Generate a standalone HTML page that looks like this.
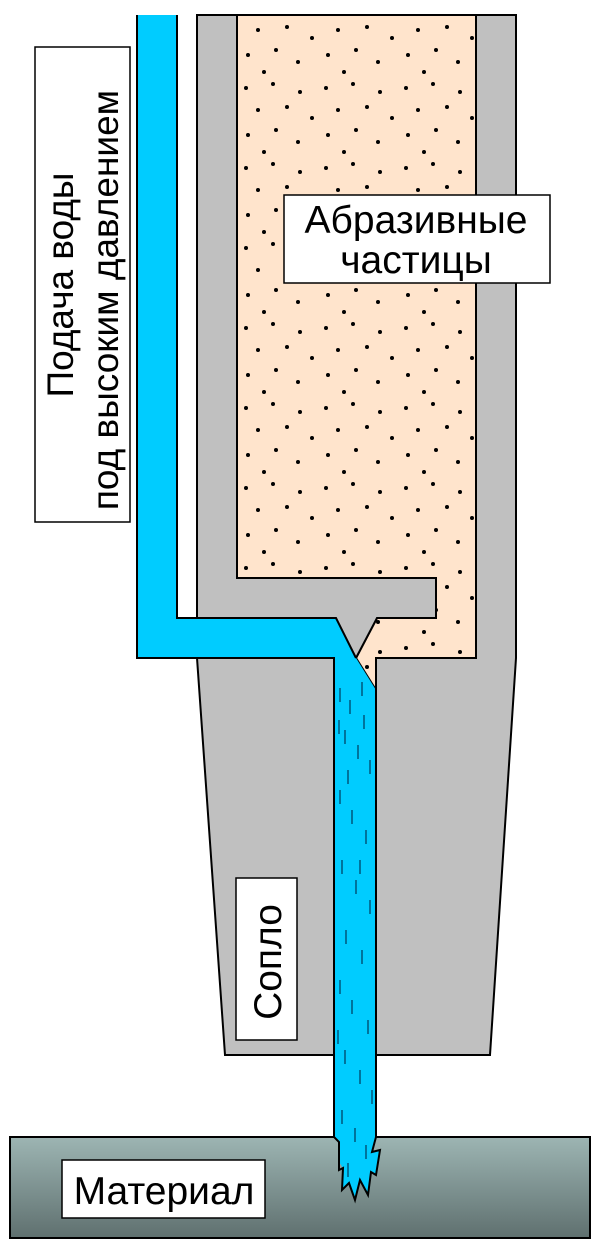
<!DOCTYPE html>
<html><head><meta charset="utf-8"><style>body{margin:0;background:#fff}svg{display:block}</style></head><body>
<svg width="600" height="1250" viewBox="0 0 600 1250" xmlns="http://www.w3.org/2000/svg" font-family="Liberation Sans, sans-serif">
<defs>
<linearGradient id="m" x1="0" y1="0" x2="0" y2="1"><stop offset="0" stop-color="#9db5b3"/><stop offset="1" stop-color="#5f706f"/></linearGradient>
<pattern id="d" width="80" height="80" patternUnits="userSpaceOnUse">
<circle cx="6" cy="8" r="2" fill="#000"/><circle cx="33" cy="4" r="2" fill="#000"/><circle cx="60" cy="12" r="2" fill="#000"/><circle cx="18" cy="30" r="2" fill="#000"/><circle cx="47" cy="27" r="2" fill="#000"/><circle cx="72" cy="38" r="2" fill="#000"/><circle cx="8" cy="55" r="2" fill="#000"/><circle cx="36" cy="50" r="2" fill="#000"/><circle cx="58" cy="62" r="2" fill="#000"/><circle cx="24" cy="72" r="2" fill="#000"/>
</pattern>
</defs>
<rect x="10" y="1137" width="580" height="101" fill="url(#m)" stroke="#000" stroke-width="2"/>
<rect x="62" y="1160" width="203" height="58" fill="#fff" stroke="#000" stroke-width="1.5"/>
<text x="164" y="1204" font-size="39" text-anchor="middle">Материал</text>
<path d="M197 15 H516 V658 L490 1055 H225 L197 658 Z" fill="#c0c0c0" stroke="#000" stroke-width="2"/>
<path d="M237 15 H476 V658 H376 V690 L356 658 L377 618 H436 V578 H237 Z" fill="#ffe4cc" stroke="#000" stroke-width="2"/>
<path d="M237 15 H476 V658 H376 V690 L356 658 L377 618 H436 V578 H237 Z" fill="url(#d)"/>
<path d="M237 578 H436 V618 H377 L356 658 L336 618" fill="#c0c0c0"/>
<path d="M237 578 H436 V618 H377 L356 658" fill="none" stroke="#000" stroke-width="2"/>
<rect x="177" y="15" width="20" height="603" fill="#fff"/>
<line x1="197" y1="15" x2="197" y2="618" stroke="#000" stroke-width="2"/>
<path d="M137 15 H177 V618 H336 L356 658 L376 690 V1137 L372 1152 L380 1150 L376 1175 L371 1172 L368 1195 L360 1180 L355 1200 L349 1183 L342 1190 L343 1168 L339 1162 V1140 L334 1137 V658 H137 Z" fill="#00ccff"/>
<path d="M137 15 V658 H334 V1137 L339 1142 V1170 L343 1168 L342 1190 L349 1183 L355 1200 L360 1180 L368 1195 L371 1172 L376 1175 L380 1150 L372 1152 L376 1137 V690" fill="none" stroke="#000" stroke-width="2"/>
<path d="M177 15 V618 H336 L356 658" fill="none" stroke="#000" stroke-width="2"/>
<line x1="376" y1="658" x2="376" y2="1055" stroke="#000" stroke-width="2"/>
<g stroke="#046" stroke-width="1.3">
<path d="M340 688v14M350 700v14M362 682v14M345 730v14M358 745v14M370 760v14M340 790v14M352 810v14M366 830v14M342 860v14M356 880v14M370 900v14M346 930v14M362 950v14M340 980v14M352 1000v14M368 1020v14M345 1050v14M360 1070v14M372 1090v14M342 1110v14M355 1128v14M366 1145v14M348 1163v14M339 720v14M364 715v14M348 770v14M360 860v14M338 1030v14"/>
</g>
<rect x="35" y="47" width="95" height="475" fill="#fff" stroke="#000" stroke-width="1.5"/>
<text transform="translate(73,285) rotate(-90)" font-size="37" text-anchor="middle">Подача воды</text>
<text transform="translate(118,300) rotate(-90)" font-size="37" text-anchor="middle">под высоким давлением</text>
<rect x="284" y="195" width="266" height="88" fill="#fff" stroke="#000" stroke-width="1.5"/>
<text x="416" y="233" font-size="39" text-anchor="middle">Абразивные</text>
<text x="416" y="273" font-size="39" text-anchor="middle">частицы</text>
<rect x="236" y="878" width="61" height="162" fill="#fff" stroke="#000" stroke-width="1.5"/>
<text transform="translate(281,962) rotate(-90)" font-size="39" text-anchor="middle">Сопло</text>
</svg>
</body></html>
